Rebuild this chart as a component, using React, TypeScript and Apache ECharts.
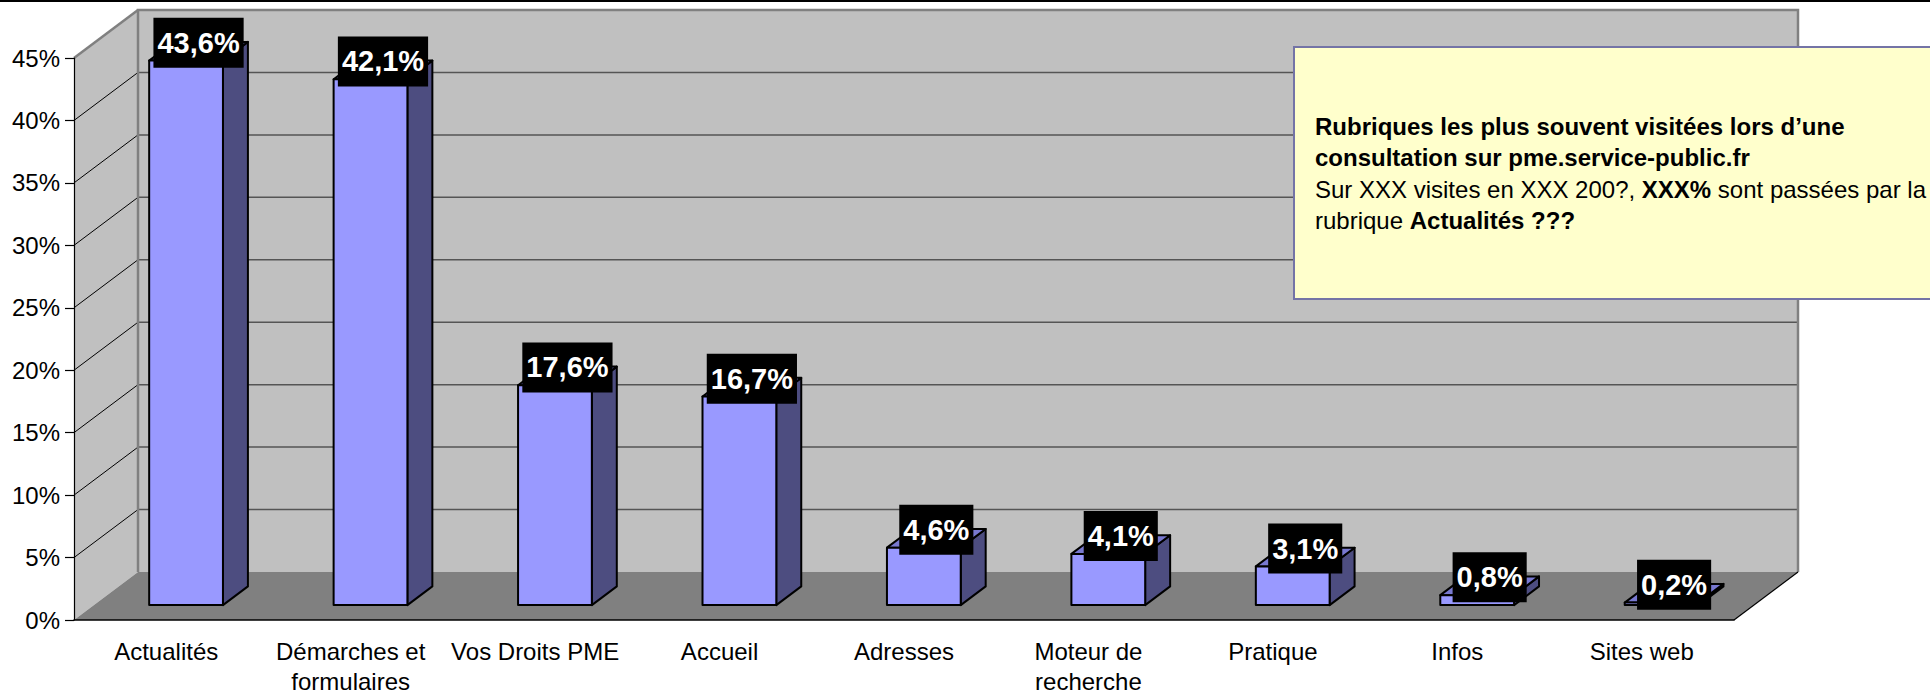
import React, { useEffect, useRef } from "react";
import * as echarts from "echarts";

const categories = [
  "Actualités",
  "Démarches et\nformulaires",
  "Vos Droits PME",
  "Accueil",
  "Adresses",
  "Moteur de\nrecherche",
  "Pratique",
  "Infos",
  "Sites web",
];
const values = [43.6, 42.1, 17.6, 16.7, 4.6, 4.1, 3.1, 0.8, 0.2];
const yTicks = [0, 5, 10, 15, 20, 25, 30, 35, 40, 45];
const noteText =
  "{b|Rubriques les plus souvent visitées lors d’une}\n" +
  "{b|consultation sur pme.service-public.fr}\n" +
  "{r|Sur XXX visites en XXX 200?, }{b|XXX%}{r| sont passées par la}\n" +
  "{r|rubrique }{b|Actualités ???}";

const FONT = '"Liberation Sans", Arial, sans-serif';
const DX = 64;
const DY = -48;
const F1 = 0.31; // front face depth fraction
const FD = 0.39; // bar depth fraction
const BW = 0.4; // bar width fraction of band

const fmt = (v: number) => v.toFixed(1).replace(".", ",") + "%";

export default function App() {
  const ref = useRef<HTMLDivElement>(null);
  useEffect(() => {
    if (!ref.current) return;
    const chart = echarts.init(ref.current, undefined, { renderer: "svg" });
    const yMax = yTicks[yTicks.length - 1];

    const bgRender = (params: any, api: any) => {
      const bw = api.size([1, 0])[0];
      const x0 = api.coord([0, 0])[0] - bw / 2;
      const x1 = api.coord([categories.length - 1, 0])[0] + bw / 2;
      const yv = (v: number) => api.coord([0, v])[1];
      const yb = yv(0);
      const yt = yv(yMax);
      const children: any[] = [];
      children.push({
        type: "polygon",
        shape: { points: [[x0 + DX, yt + DY], [x1 + DX, yt + DY], [x1 + DX, yb + DY], [x0 + DX, yb + DY]] },
        style: { fill: "#C0C0C0" },
      });
      children.push({
        type: "polygon",
        shape: { points: [[x0, yb], [x0, yt], [x0 + DX, yt + DY], [x0 + DX, yb + DY]] },
        style: { fill: "#C0C0C0" },
      });
      children.push({
        type: "polygon",
        shape: { points: [[x0, yb], [x1, yb], [x1 + DX, yb + DY], [x0 + DX, yb + DY]] },
        style: { fill: "#808080" },
      });
      yTicks.forEach((v) => {
        if (v <= 0 || v >= yMax) return;
        const y = yv(v);
        children.push({
          type: "line",
          shape: { x1: x0 + DX, y1: y + DY, x2: x1 + DX, y2: y + DY },
          style: { stroke: "#555555", lineWidth: 1.5 },
        });
        children.push({
          type: "line",
          shape: { x1: x0, y1: y, x2: x0 + DX, y2: y + DY },
          style: { stroke: "#000000", lineWidth: 1 },
        });
      });
      children.push({
        type: "line",
        shape: { x1: x0, y1: yt, x2: x0 + DX, y2: yt + DY },
        style: { stroke: "#808080", lineWidth: 2.5 },
      });
      children.push({
        type: "polyline",
        shape: { points: [[x0 + DX, yb + DY], [x0 + DX, yt + DY], [x1 + DX, yt + DY], [x1 + DX, yb + DY]] },
        style: { stroke: "#808080", lineWidth: 2.5, fill: "none" },
      });
      children.push({
        type: "line",
        shape: { x1: x1, y1: yb, x2: x1 + DX, y2: yb + DY },
        style: { stroke: "#000000", lineWidth: 1.2 },
      });
      return { type: "group", children };
    };

    const barRender = (params: any, api: any) => {
      const i = api.value(0);
      const v = api.value(1);
      const bw = api.size([1, 0])[0];
      const c = api.coord([i, 0]);
      const t = api.coord([i, v]);
      const w = bw * BW;
      const ox = DX * F1;
      const oy = DY * F1;
      const sx = DX * FD;
      const sy = DY * FD;
      const fx1 = c[0] - w / 2 + ox;
      const fx2 = c[0] + w / 2 + ox;
      const yb = c[1] + oy;
      const yt = t[1] + oy;
      const edge = { stroke: "#000000", lineWidth: 2, lineJoin: "round" };
      return {
        type: "group",
        children: [
          {
            type: "polygon",
            shape: { points: [[fx2, yb], [fx2, yt], [fx2 + sx, yt + sy], [fx2 + sx, yb + sy]] },
            style: { fill: "#4D4D80", ...edge },
          },
          {
            type: "polygon",
            shape: { points: [[fx1, yt], [fx2, yt], [fx2 + sx, yt + sy], [fx1 + sx, yt + sy]] },
            style: { fill: "#7878D0", ...edge },
          },
          {
            type: "polygon",
            shape: { points: [[fx1, yb], [fx2, yb], [fx2, yt], [fx1, yt]] },
            style: { fill: "#9999FF", ...edge },
          },
          {
            type: "text",
            x: (fx1 + fx2) / 2 + sx / 2,
            y: yt + sy / 2 - 8.5,
            style: {
              text: fmt(v),
              fill: "#FFFFFF",
              font: "bold 29px " + FONT,
              align: "center",
              verticalAlign: "middle",
              backgroundColor: "#000000",
              padding: [9, 4, 8, 4],
              lineHeight: 33,
            },
          },
        ],
      };
    };

    chart.setOption({
      animation: false,
      backgroundColor: "#FFFFFF",
      grid: { left: 74, right: 196, top: 58, bottom: 73, containLabel: false },
      xAxis: {
        type: "category",
        data: categories,
        z: 3,
        axisLine: { lineStyle: { color: "#000000", width: 1.5 } },
        axisTick: { alignWithLabel: false, length: 10, lineStyle: { color: "#333333", width: 1.5 } },
        axisLabel: {
          interval: 0,
          fontSize: 24,
          fontFamily: FONT,
          color: "#000000",
          lineHeight: 30,
          margin: 16,
        },
        splitLine: { show: false },
      },
      yAxis: {
        type: "value",
        min: 0,
        max: yMax,
        interval: 5,
        z: 3,
        axisLine: { show: true, lineStyle: { color: "#000000", width: 1.2 } },
        axisTick: { show: true, length: 9, lineStyle: { color: "#000000", width: 1.2 } },
        axisLabel: {
          formatter: "{value}%",
          fontSize: 24,
          fontFamily: FONT,
          color: "#000000",
          margin: 14,
        },
        splitLine: { show: false },
      },
      series: [
        {
          type: "custom",
          z: 1,
          clip: false,
          silent: true,
          renderItem: bgRender,
          data: [[0, 0]],
        },
        {
          type: "custom",
          z: 5,
          clip: false,
          renderItem: barRender,
          data: values.map((v, i) => [i, v]),
        },
      ],
      graphic: [
        {
          type: "rect",
          z: 100,
          shape: { x: 0, y: 0, width: 1930, height: 2 },
          style: { fill: "#000000" },
        },
        {
          type: "rect",
          z: 100,
          shape: { x: 1294, y: 47, width: 700, height: 252 },
          style: { fill: "#FFFFCC", stroke: "#7474A6", lineWidth: 2 },
        },
        {
          type: "text",
          z: 101,
          x: 1315,
          y: 111,
          style: {
            text: noteText,
            fill: "#000000",
            font: "24px " + FONT,
            lineHeight: 31.3,
            verticalAlign: "top",
            rich: {
              b: { fontWeight: "bold", fontSize: 24, fontFamily: FONT, lineHeight: 31.3, fill: "#000000" },
              r: { fontWeight: "normal", fontSize: 24, fontFamily: FONT, lineHeight: 31.3, fill: "#000000" },
            },
          },
        },
      ],
    });
    return () => chart.dispose();
  }, []);
  return (
    <div
      ref={ref}
      style={{ position: "fixed", left: 0, top: 0, width: 1930, height: 696, background: "#fff" }}
    />
  );
}
